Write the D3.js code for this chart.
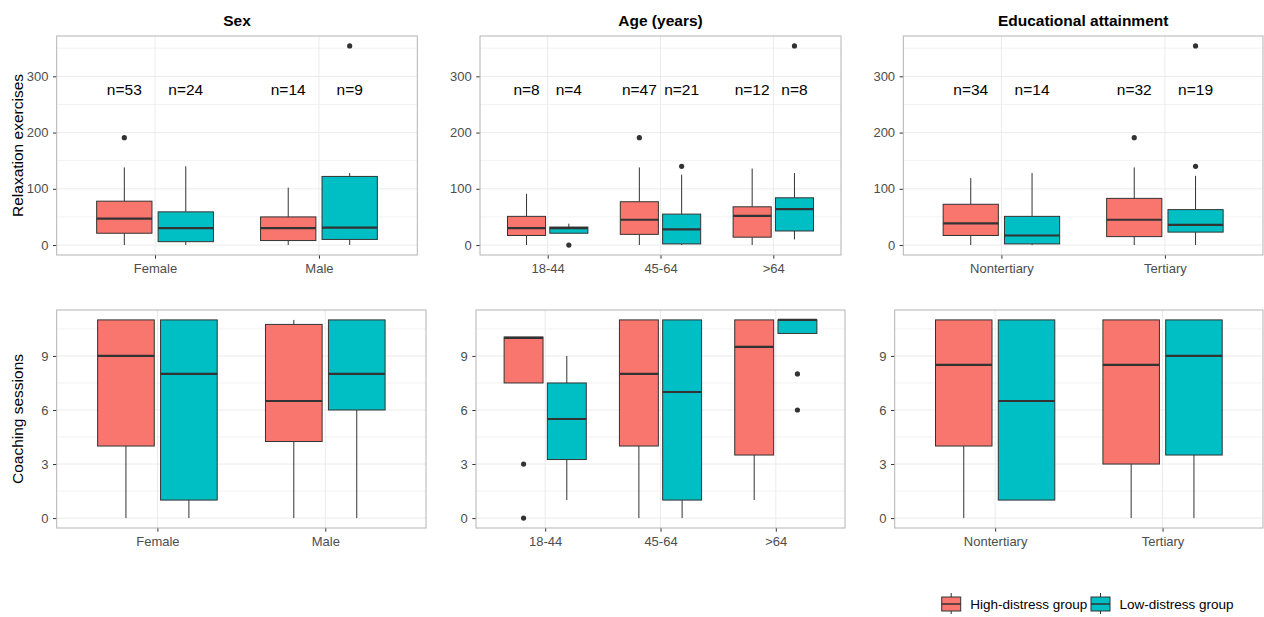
<!DOCTYPE html>
<html>
<head>
<meta charset="utf-8">
<script src="https://cdn.jsdelivr.net/npm/d3@7"></script>
<style>
  html, body { margin: 0; padding: 0; background: #fff; }
  svg { display: block; font-family: 'Liberation Sans', Arial, sans-serif; }
  .grid-major { stroke: #ebebeb; stroke-width: 1; }
  .grid-minor { stroke: #f2f2f2; stroke-width: 1; }
  .panel-border { fill: none; stroke: #b3b3b3; stroke-width: 1; }
  .tick-text { fill: #4d4d4d; font-size: 13px; }
  .axis-title { fill: #000; font-size: 15.5px; }
  .plot-title { fill: #000; font-size: 15.5px; font-weight: bold; }
  .n-label { fill: #000; font-size: 15.5px; }
  .legend-text { fill: #000; font-size: 13.5px; }
</style>
</head>
<body>
<svg id="chart" width="1264" height="617"></svg>
<script>
// ── DATA ──────────────────────────────────────────────────────────────────
const groups = ['High-distress group', 'Low-distress group'];
const groupColors = ['#F8766D', '#00BFC4'];

const sexCats = ['Female', 'Male'];
const ageCats = ['18-44', '45-64', '>64'];
const eduCats = ['Nontertiary', 'Tertiary'];

const panelTitles = ['Sex', 'Age (years)', 'Educational attainment'];
const rowTitles = ['Relaxation exercises', 'Coaching sessions'];

// box stats per category: [lower whisker, q1, median, q3, upper whisker]
const relaxSexHigh = [[0, 21, 47, 78, 138], [0, 8, 30, 50, 102]];
const relaxSexLow  = [[0, 6, 30, 59, 140], [0, 10, 31, 122, 128]];
const relaxAgeHigh = [[0, 17, 30, 51, 91], [0, 19, 45, 77, 138], [0, 14, 52, 68, 136]];
const relaxAgeLow  = [[21, 21, 30, 32, 38], [0, 2, 28, 55, 125], [10, 25, 64, 84, 128]];
const relaxEduHigh = [[0, 17, 38.5, 72.5, 119], [0, 15, 45, 83, 138]];
const relaxEduLow  = [[0, 2, 17, 51, 128], [0, 23, 36, 63, 123]];

const coachSexHigh = [[0, 4, 9, 11, 11], [0, 4.25, 6.5, 10.75, 11]];
const coachSexLow  = [[0, 1, 8, 11, 11], [0, 6, 8, 11, 11]];
const coachAgeHigh = [[7.5, 7.5, 10, 10.05, 10.05], [0, 4, 8, 11, 11], [1, 3.5, 9.5, 11, 11]];
const coachAgeLow  = [[1, 3.25, 5.5, 7.5, 9], [0, 1, 7, 11, 11], [10.25, 10.25, 11, 11, 11]];
const coachEduHigh = [[0, 4, 8.5, 11, 11], [0, 3, 8.5, 11, 11]];
const coachEduLow  = [[1, 1, 6.5, 11, 11], [0, 3.5, 9, 11, 11]];

// outliers: [category index, group index, value]
const relaxSexOut = [[0, 0, 191], [1, 1, 354]];
const relaxAgeOut = [[1, 0, 191], [0, 1, 0], [1, 1, 140], [2, 1, 354]];
const relaxEduOut = [[1, 0, 191], [1, 1, 140], [1, 1, 354]];
const coachSexOut = [];
const coachAgeOut = [[0, 0, 3], [0, 0, 0], [2, 1, 8], [2, 1, 6]];
const coachEduOut = [];

// sample sizes per category: [high, low]
const sexN = [[53, 24], [14, 9]];
const ageN = [[8, 4], [47, 21], [12, 8]];
const eduN = [[34, 14], [32, 19]];
const nLabelY = 277;

const relaxTicks = [0, 100, 200, 300];
const relaxMinor = [50, 150, 250, 350];
const coachTicks = [0, 3, 6, 9];
const coachMinor = [1.5, 4.5, 7.5, 10.5];

// ── LAYOUT ────────────────────────────────────────────────────────────────
const svg = d3.select('#chart');
const topRow = { y0: 36, y1: 255, xs: [[56.7, 417.3], [480, 841], [903.3, 1263]] };
const botRow = { y0: 310, y1: 528, xs: [[56.7, 426], [476, 845], [894.7, 1263]] };
const dodge = 0.1875, boxW = 0.3375;

function extentWithPad(arrs, outs) {
  const vals = [];
  arrs.forEach(a => a.forEach(s => vals.push(...s)));
  outs.forEach(o => o.forEach(p => vals.push(p[2])));
  const [lo, hi] = d3.extent(vals);
  const pad = (hi - lo) * 0.05;
  return [lo - pad, hi + pad];
}

function drawPanel(p) {
  const g = svg.append('g');
  const x = d3.scaleLinear().domain([0.4, p.cats.length + 0.6]).range([p.x0, p.x1]);
  const y = d3.scaleLinear().domain(p.domain).range([p.y1, p.y0]);

  // grid
  g.selectAll('.gmin').data(p.minor).join('line').attr('class', 'grid-minor')
    .attr('x1', p.x0).attr('x2', p.x1).attr('y1', d => y(d)).attr('y2', d => y(d));
  g.selectAll('.gmaj').data(p.ticks).join('line').attr('class', 'grid-major')
    .attr('x1', p.x0).attr('x2', p.x1).attr('y1', d => y(d)).attr('y2', d => y(d));
  g.selectAll('.gx').data(p.cats).join('line').attr('class', 'grid-major')
    .attr('x1', (d, i) => x(i + 1)).attr('x2', (d, i) => x(i + 1))
    .attr('y1', p.y0).attr('y2', p.y1);

  // axes
  const yAxis = g.append('g').attr('transform', `translate(${p.x0},0)`)
    .call(d3.axisLeft(y).tickValues(p.ticks).tickSize(3.7).tickPadding(4.5));
  yAxis.select('.domain').remove();
  yAxis.selectAll('line').attr('stroke', '#333');
  yAxis.selectAll('text').attr('class', 'tick-text').attr('font-family', null).attr('font-size', null);

  const xAxis = g.append('g').attr('transform', `translate(0,${p.y1})`)
    .call(d3.axisBottom(d3.scaleOrdinal().domain(p.cats).range(p.cats.map((c, i) => x(i + 1))))
      .tickSize(3.7).tickPadding(5));
  xAxis.select('.domain').remove();
  xAxis.selectAll('line').attr('stroke', '#333');
  xAxis.selectAll('text').attr('class', 'tick-text').attr('font-family', null).attr('font-size', null);

  // boxes
  [p.high, p.low].forEach((stats, gi) => {
    const off = gi === 0 ? -dodge : dodge;
    const bg = g.append('g');
    stats.forEach((s, ci) => {
      const cx = x(ci + 1 + off);
      const half = (x(boxW) - x(0)) / 2;
      bg.append('line').attr('x1', cx).attr('x2', cx).attr('y1', y(s[3])).attr('y2', y(s[4]))
        .attr('stroke', '#333').attr('stroke-width', 1);
      bg.append('line').attr('x1', cx).attr('x2', cx).attr('y1', y(s[1])).attr('y2', y(s[0]))
        .attr('stroke', '#333').attr('stroke-width', 1);
      bg.append('rect').attr('x', cx - half).attr('width', half * 2)
        .attr('y', y(s[3])).attr('height', Math.max(0.5, y(s[1]) - y(s[3])))
        .attr('fill', groupColors[gi]).attr('stroke', '#333').attr('stroke-width', 1);
      bg.append('line').attr('x1', cx - half).attr('x2', cx + half)
        .attr('y1', y(s[2])).attr('y2', y(s[2]))
        .attr('stroke', '#333').attr('stroke-width', 2.2);
    });
  });

  // outliers
  g.selectAll('.out').data(p.out).join('circle')
    .attr('cx', d => x(d[0] + 1 + (d[1] === 0 ? -dodge : dodge)))
    .attr('cy', d => y(d[2])).attr('r', 2.6).attr('fill', '#333');

  // n labels
  if (p.n) {
    p.n.forEach((pair, ci) => pair.forEach((n, gi) => {
      g.append('text').attr('class', 'n-label')
        .attr('x', x(ci + 1 + (gi === 0 ? -dodge : dodge)))
        .attr('y', y(nLabelY)).attr('dy', '0.35em')
        .attr('text-anchor', 'middle').text(`n=${n}`);
    }));
  }

  g.append('rect').attr('class', 'panel-border')
    .attr('x', p.x0).attr('y', p.y0).attr('width', p.x1 - p.x0).attr('height', p.y1 - p.y0);

  if (p.title) {
    g.append('text').attr('class', 'plot-title')
      .attr('x', (p.x0 + p.x1) / 2).attr('y', 26).attr('text-anchor', 'middle').text(p.title);
  }
  if (p.yTitle) {
    g.append('text').attr('class', 'axis-title')
      .attr('transform', `translate(23,${(p.y0 + p.y1) / 2}) rotate(-90)`)
      .attr('text-anchor', 'middle').text(p.yTitle);
  }
}

const relaxDomain = extentWithPad(
  [relaxSexHigh, relaxSexLow, relaxAgeHigh, relaxAgeLow, relaxEduHigh, relaxEduLow],
  [relaxSexOut, relaxAgeOut, relaxEduOut]);
const coachDomain = extentWithPad(
  [coachSexHigh, coachSexLow, coachAgeHigh, coachAgeLow, coachEduHigh, coachEduLow],
  [coachSexOut, coachAgeOut, coachEduOut]);

const catSets = [sexCats, ageCats, eduCats];
const relaxHigh = [relaxSexHigh, relaxAgeHigh, relaxEduHigh];
const relaxLow = [relaxSexLow, relaxAgeLow, relaxEduLow];
const relaxOut = [relaxSexOut, relaxAgeOut, relaxEduOut];
const coachHigh = [coachSexHigh, coachAgeHigh, coachEduHigh];
const coachLow = [coachSexLow, coachAgeLow, coachEduLow];
const coachOut = [coachSexOut, coachAgeOut, coachEduOut];
const nSets = [sexN, ageN, eduN];

catSets.forEach((cats, i) => {
  drawPanel({
    cats, high: relaxHigh[i], low: relaxLow[i], out: relaxOut[i], n: nSets[i],
    domain: relaxDomain, ticks: relaxTicks, minor: relaxMinor,
    x0: topRow.xs[i][0], x1: topRow.xs[i][1], y0: topRow.y0, y1: topRow.y1,
    title: panelTitles[i], yTitle: i === 0 ? rowTitles[0] : null,
  });
  drawPanel({
    cats, high: coachHigh[i], low: coachLow[i], out: coachOut[i], n: null,
    domain: coachDomain, ticks: coachTicks, minor: coachMinor,
    x0: botRow.xs[i][0], x1: botRow.xs[i][1], y0: botRow.y0, y1: botRow.y1,
    title: null, yTitle: i === 0 ? rowTitles[1] : null,
  });
});

// ── LEGEND ────────────────────────────────────────────────────────────────
const legend = svg.append('g');
const keyX = [941.7, 1091];
groups.forEach((name, i) => {
  const kx = keyX[i], cy = 604;
  const k = legend.append('g');
  k.append('line').attr('x1', kx + 9.5).attr('x2', kx + 9.5).attr('y1', cy - 11).attr('y2', cy + 10)
    .attr('stroke', '#333');
  k.append('rect').attr('x', kx).attr('y', cy - 7).attr('width', 19).attr('height', 14)
    .attr('fill', groupColors[i]).attr('stroke', '#333');
  k.append('line').attr('x1', kx).attr('x2', kx + 19).attr('y1', cy).attr('y2', cy)
    .attr('stroke', '#333').attr('stroke-width', 1.5);
  legend.append('text').attr('class', 'legend-text')
    .attr('x', kx + 28.5).attr('y', cy).attr('dy', '0.35em').text(name);
});
</script>
</body>
</html>
